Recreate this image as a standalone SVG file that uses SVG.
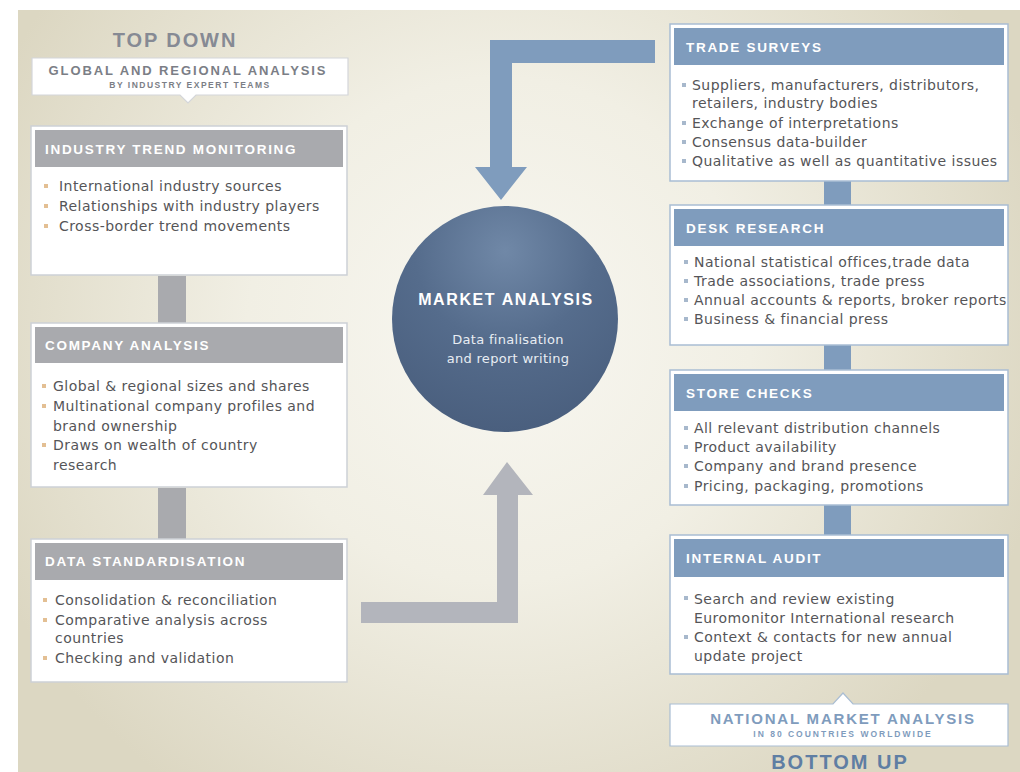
<svg xmlns="http://www.w3.org/2000/svg" width="1020" height="772" viewBox="0 0 1020 772">
<defs>
<radialGradient id="bg" cx="500" cy="330" r="560" gradientUnits="userSpaceOnUse">
<stop offset="0" stop-color="#f8f7f1"/>
<stop offset="0.45" stop-color="#f1efe4"/>
<stop offset="1" stop-color="#dcd7c2"/>
</radialGradient>
<radialGradient id="ball" cx="0.5" cy="0.2" r="0.8">
<stop offset="0" stop-color="#7088a7"/>
<stop offset="0.5" stop-color="#556c8c"/>
<stop offset="1" stop-color="#4a5f7e"/>
</radialGradient>
<style>
.box{fill:#ffffff;stroke:#cdd1d6;stroke-width:1.5}
.boxr{fill:#ffffff;stroke:#a9bdd3;stroke-width:1.5}
.hg{fill:#a9aaae}
.hb{fill:#7f9cbd}
.ht{font-family:"Liberation Sans",Arial,sans-serif;font-weight:bold;font-size:13.5px;fill:#ffffff;letter-spacing:1.7px}
.bt{font-family:"DejaVu Sans","Liberation Sans",sans-serif;font-size:14px;fill:#555558;letter-spacing:0.45px}
.bl{fill:#e3bf93}
.br{fill:#a7b8cc}
.cg{fill:#a9aaae}
.cb{fill:#7f9cbd}
</style>
</defs>
<rect x="0" y="0" width="1020" height="772" fill="#ffffff"/>
<rect x="18" y="10" width="1002" height="762" fill="url(#bg)"/>

<g id="connectors">
<rect class="cg" x="158" y="276" width="28" height="47"/>
<rect class="cg" x="158" y="488" width="28" height="51"/>
<rect class="cb" x="824" y="181" width="27" height="25"/>
<rect class="cb" x="824" y="345" width="27" height="26"/>
<rect class="cb" x="824" y="505" width="27" height="31"/>
<path id="arrow-up" d="M361 602 H497 V495 H483 L507 462 L533 495 H518 V623 H361 Z" fill="#b3b5bc"/>
<path id="arrow-down" d="M655 40 V63 H512 V167 H527 L501 200 L475 167 H490 V40 Z" fill="#7f9cbd"/>
</g>

<g id="top-down">
<text x="175" y="47" text-anchor="middle" font-family="Liberation Sans,Arial,sans-serif" font-weight="bold" font-size="20" fill="#868a94" letter-spacing="1.9">TOP DOWN</text>
<path d="M32 58 H348 V95 H196 L188 103 L180 95 H32 Z" fill="#ffffff" stroke="#d4d6da" stroke-width="1.2"/>
<text x="188" y="75" text-anchor="middle" font-family="Liberation Sans,Arial,sans-serif" font-weight="bold" font-size="13" fill="#7b7e86" letter-spacing="1.9">GLOBAL AND REGIONAL ANALYSIS</text>
<text x="190" y="88" text-anchor="middle" font-family="Liberation Sans,Arial,sans-serif" font-weight="bold" font-size="8.5" fill="#7b7e86" letter-spacing="1.5">BY INDUSTRY EXPERT TEAMS</text>
</g>

<g id="industry-trend">
<rect class="box" x="31" y="126" width="316" height="149"/>
<rect class="hg" x="35" y="130" width="308" height="37"/>
<text class="ht" x="45" y="154">INDUSTRY TREND MONITORING</text>
<rect class="bl" x="44" y="184" width="4" height="4"/><text class="bt" x="59" y="191">International industry sources</text>
<rect class="bl" x="44" y="204" width="4" height="4"/><text class="bt" x="59" y="211">Relationships with industry players</text>
<rect class="bl" x="44" y="224" width="4" height="4"/><text class="bt" x="59" y="231">Cross-border trend movements</text>
</g>

<g id="company-analysis">
<rect class="box" x="31" y="323" width="316" height="164"/>
<rect class="hg" x="35" y="327" width="308" height="36"/>
<text class="ht" x="45" y="350">COMPANY ANALYSIS</text>
<rect class="bl" x="42" y="384" width="4" height="4"/><text class="bt" x="53" y="391">Global &amp; regional sizes and shares</text>
<rect class="bl" x="42" y="404" width="4" height="4"/><text class="bt" x="53" y="411">Multinational company profiles and</text>
<text class="bt" x="53" y="431">brand ownership</text>
<rect class="bl" x="42" y="443" width="4" height="4"/><text class="bt" x="53" y="450">Draws on wealth of country</text>
<text class="bt" x="53" y="470">research</text>
</g>

<g id="data-standardisation">
<rect class="box" x="31" y="539" width="316" height="143"/>
<rect class="hg" x="35" y="543" width="308" height="37"/>
<text class="ht" x="45" y="566">DATA STANDARDISATION</text>
<rect class="bl" x="43" y="598" width="4" height="4"/><text class="bt" x="55" y="605">Consolidation &amp; reconciliation</text>
<rect class="bl" x="43" y="618" width="4" height="4"/><text class="bt" x="55" y="625">Comparative analysis across</text>
<text class="bt" x="55" y="643">countries</text>
<rect class="bl" x="43" y="656" width="4" height="4"/><text class="bt" x="55" y="663">Checking and validation</text>
</g>

<g id="market-analysis">
<circle cx="505" cy="319" r="113" fill="url(#ball)"/>
<text x="506" y="305" text-anchor="middle" font-family="Liberation Sans,Arial,sans-serif" font-weight="bold" font-size="16" fill="#ffffff" letter-spacing="1.6">MARKET ANALYSIS</text>
<text x="508" y="344" text-anchor="middle" font-family="DejaVu Sans,sans-serif" font-size="13" fill="#e8edf3" letter-spacing="0.3">Data finalisation</text>
<text x="508" y="363" text-anchor="middle" font-family="DejaVu Sans,sans-serif" font-size="13" fill="#e8edf3" letter-spacing="0.3">and report writing</text>
</g>

<g id="trade-surveys">
<rect class="boxr" x="670" y="24" width="338" height="157"/>
<rect class="hb" x="674" y="28" width="330" height="37"/>
<text class="ht" x="686" y="52">TRADE SURVEYS</text>
<rect class="br" x="682" y="83" width="4" height="4"/><text class="bt" x="692" y="90">Suppliers, manufacturers, distributors,</text>
<text class="bt" x="692" y="108">retailers, industry bodies</text>
<rect class="br" x="682" y="121" width="4" height="4"/><text class="bt" x="692" y="128">Exchange of interpretations</text>
<rect class="br" x="682" y="140" width="4" height="4"/><text class="bt" x="692" y="147">Consensus data-builder</text>
<rect class="br" x="682" y="159" width="4" height="4"/><text class="bt" x="692" y="166">Qualitative as well as quantitative issues</text>
</g>

<g id="desk-research">
<rect class="boxr" x="670" y="205" width="338" height="140"/>
<rect class="hb" x="674" y="209" width="330" height="37"/>
<text class="ht" x="686" y="233">DESK RESEARCH</text>
<rect class="br" x="684" y="260" width="4" height="4"/><text class="bt" x="694" y="267">National statistical offices,trade data</text>
<rect class="br" x="684" y="279" width="4" height="4"/><text class="bt" x="694" y="286">Trade associations, trade press</text>
<rect class="br" x="684" y="298" width="4" height="4"/><text class="bt" x="694" y="305">Annual accounts &amp; reports, broker reports</text>
<rect class="br" x="684" y="317" width="4" height="4"/><text class="bt" x="694" y="324">Business &amp; financial press</text>
</g>

<g id="store-checks">
<rect class="boxr" x="670" y="370" width="338" height="135"/>
<rect class="hb" x="674" y="374" width="330" height="37"/>
<text class="ht" x="686" y="398">STORE CHECKS</text>
<rect class="br" x="684" y="426" width="4" height="4"/><text class="bt" x="694" y="433">All relevant distribution channels</text>
<rect class="br" x="684" y="445" width="4" height="4"/><text class="bt" x="694" y="452">Product availability</text>
<rect class="br" x="684" y="464" width="4" height="4"/><text class="bt" x="694" y="471">Company and brand presence</text>
<rect class="br" x="684" y="484" width="4" height="4"/><text class="bt" x="694" y="491">Pricing, packaging, promotions</text>
</g>

<g id="internal-audit">
<rect class="boxr" x="670" y="535" width="338" height="139"/>
<rect class="hb" x="674" y="539" width="330" height="38"/>
<text class="ht" x="686" y="563">INTERNAL AUDIT</text>
<rect class="br" x="684" y="596" width="4" height="4"/><text class="bt" x="694" y="604">Search and review existing</text>
<text class="bt" x="694" y="623">Euromonitor International research</text>
<rect class="br" x="684" y="635" width="4" height="4"/><text class="bt" x="694" y="642">Context &amp; contacts for new annual</text>
<text class="bt" x="694" y="661">update project</text>
</g>

<g id="bottom-up">
<path d="M670 704 H833 L843 693 L853 704 H1008 V746 H670 Z" fill="#ffffff" stroke="#a9bdd3" stroke-width="1.2"/>
<text x="843" y="724" text-anchor="middle" font-family="Liberation Sans,Arial,sans-serif" font-weight="bold" font-size="15" fill="#7f9cbd" letter-spacing="1.8">NATIONAL MARKET ANALYSIS</text>
<text x="843" y="737" text-anchor="middle" font-family="Liberation Sans,Arial,sans-serif" font-weight="bold" font-size="8.5" fill="#7f9cbd" letter-spacing="2">IN 80 COUNTRIES WORLDWIDE</text>
<text x="840" y="769" text-anchor="middle" font-family="Liberation Sans,Arial,sans-serif" font-weight="bold" font-size="20" fill="#5f7ea3" letter-spacing="2">BOTTOM UP</text>
</g>
</svg>
